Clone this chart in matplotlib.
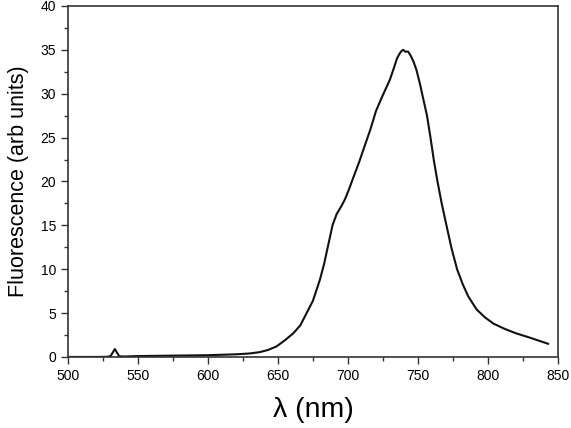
import matplotlib
matplotlib.use("Agg")
import matplotlib.pyplot as plt
from matplotlib.ticker import MultipleLocator

plt.rcParams['font.family'] = ['Liberation Sans', 'DejaVu Sans']

wavelength = [500, 510, 520, 528, 530.5, 532, 533.5, 535, 536.6, 540, 550, 575, 600, 620, 630,
              637, 643, 649, 655, 661, 666, 670.5, 675, 680, 683, 686, 689, 692, 695, 698, 701, 704,
              708, 711, 716, 720, 724, 726, 730, 733, 735, 737, 738.5, 739.5, 741, 743, 745, 747, 749,
              751.5, 754, 756.5, 759, 761.5, 764, 767, 770, 774, 778, 782, 786, 792, 798, 804, 812,
              820, 830, 843]
fluorescence = [0.0, 0.0, 0.0, 0.02, 0.1, 0.5, 0.9, 0.5, 0.08, 0.05, 0.1, 0.15, 0.2, 0.3, 0.4,
                0.55, 0.8, 1.2, 1.9, 2.7, 3.6, 5.0, 6.4, 8.8, 10.6, 12.8, 15.0, 16.3, 17.1, 18.0, 19.2, 20.5,
                22.2, 23.6, 25.9, 28.0, 29.5, 30.2, 31.6, 33.0, 34.0, 34.6, 34.9, 35.0, 34.8, 34.8, 34.3, 33.6, 32.7,
                31.1, 29.3, 27.5, 25.0, 22.3, 20.0, 17.5, 15.3, 12.4, 10.0, 8.3, 6.9, 5.4, 4.5, 3.8, 3.2,
                2.7, 2.2, 1.5]

fig = plt.figure(figsize=(5.71, 4.28), dpi=100)
ax = fig.add_axes([0.119, 0.166, 0.858, 0.820])
ax.plot(wavelength, fluorescence, color='#111111', lw=1.5)
ax.set_xlim(500, 850)
ax.set_ylim(0, 40)
ax.xaxis.set_major_locator(MultipleLocator(50))
ax.xaxis.set_minor_locator(MultipleLocator(25))
ax.yaxis.set_major_locator(MultipleLocator(5))
ax.yaxis.set_minor_locator(MultipleLocator(2.5))
ax.tick_params(which='major', direction='out', length=5, width=1, labelsize=10, color='#333333')
ax.tick_params(which='minor', direction='out', length=3, width=1, color='#333333')
for s in ax.spines.values():
    s.set_color('#333333')
    s.set_linewidth(1.2)
ax.set_xlabel('λ (nm)', fontsize=20.5, labelpad=10)
ax.set_ylabel('Fluorescence (arb units)', fontsize=15.5, labelpad=8)
fig.savefig('out.png', dpi=100)
